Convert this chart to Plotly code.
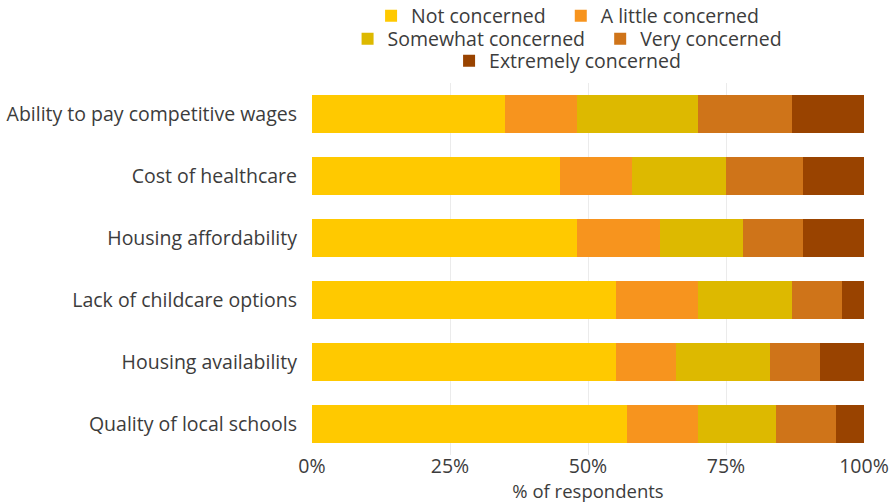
import plotly.graph_objects as go

# Survey items (top to bottom) and share of respondents per concern level (%)
issues = [
    "Ability to pay competitive wages",
    "Cost of healthcare",
    "Housing affordability",
    "Lack of childcare options",
    "Housing availability",
    "Quality of local schools",
]
not_concerned = [35, 45, 48, 55, 55, 57]
a_little_concerned = [13, 13, 15, 15, 11, 13]
somewhat_concerned = [22, 17, 15, 17, 17, 14]
very_concerned = [17, 14, 11, 9, 9, 11]
extremely_concerned = [13, 11, 11, 4, 8, 5]

x_ticks = [0, 25, 50, 75, 100]
x_tick_labels = ["0%", "25%", "50%", "75%", "100%"]

levels = ["Not concerned", "A little concerned", "Somewhat concerned",
          "Very concerned", "Extremely concerned"]
colors = ["#FFC900", "#F7941E", "#DDB900", "#CF7419", "#994300"]
values = [not_concerned, a_little_concerned, somewhat_concerned,
          very_concerned, extremely_concerned]
# legend row of each level (2 + 2 + 1) and extra trailing room after the label
legend_rows = ["legend", "legend", "legend2", "legend2", "legend3"]
legend_pad = [2, 0, 2, 0, 0]

FONT = "Open Sans"
TEXT = "#3c3c3c"
FS = 19.5

fig = go.Figure()
for name, vals, color, leg, pad in zip(levels, values, colors, legend_rows, legend_pad):
    fig.add_trace(go.Bar(
        y=issues, x=vals, name=name + "\u00a0" * pad, orientation="h",
        marker=dict(color=color, line=dict(width=0)),
        legend=leg, hovertemplate=name + ": %{x}%<extra>%{y}</extra>",
    ))

# Three centred legend rows
legend_common = dict(
    orientation="h", xanchor="center", yanchor="middle", traceorder="normal",
    font=dict(family=FONT, size=FS, color=TEXT), x=0.463,
    bgcolor="rgba(0,0,0,0)", itemclick=False, itemdoubleclick=False,
)

fig.update_layout(
    width=891, height=503,
    barmode="stack", bargap=0.39,
    paper_bgcolor="white", plot_bgcolor="white",
    margin=dict(l=312, r=27, t=83, b=48, autoexpand=False),
    font=dict(family=FONT, size=FS, color=TEXT),
    legend=dict(**legend_common, y=1.18),
    legend2=dict(**legend_common, y=1.118),
    legend3=dict(**legend_common, y=1.059),
    xaxis=dict(
        range=[0, 100], tickvals=x_ticks, ticktext=x_tick_labels,
        showgrid=True, gridcolor="#ebebeb", gridwidth=1, zeroline=False,
        showline=False, ticks="", automargin=False, ticklabelstandoff=-3,
        tickfont=dict(family=FONT, size=FS, color=TEXT),
        title=dict(text="% of respondents", standoff=9,
                   font=dict(family=FONT, size=18.5, color=TEXT)),
        fixedrange=True,
    ),
    yaxis=dict(
        autorange="reversed", showgrid=False, showline=False, ticks="",
        ticklabelstandoff=14, automargin=False,
        tickfont=dict(family=FONT, size=FS, color=TEXT),
        fixedrange=True,
    ),
)

fig.write_html("out.html")
